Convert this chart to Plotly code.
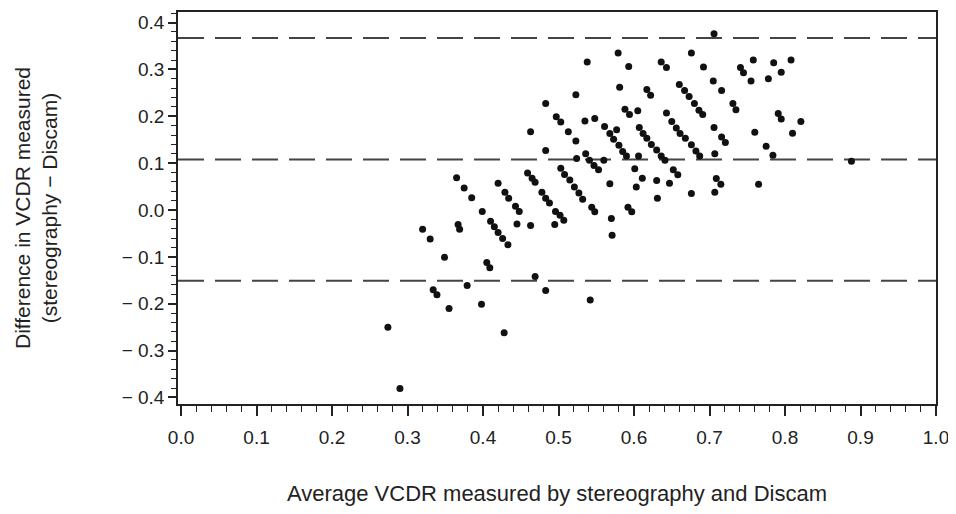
import plotly.graph_objects as go

# Average VCDR (stereography & Discam) and difference (stereography - Discam)
avg_vcdr = [
    0.274, 0.290, 0.320, 0.330, 0.349, 0.334, 0.339, 0.355, 0.367, 0.369,
    0.379, 0.398, 0.405, 0.409, 0.428, 0.410, 0.415, 0.420, 0.426, 0.433,
    0.399, 0.445, 0.463, 0.469, 0.483, 0.542, 0.365, 0.375, 0.385, 0.420,
    0.429, 0.434, 0.443, 0.448, 0.459, 0.465, 0.469, 0.478, 0.483, 0.488,
    0.496, 0.502, 0.507, 0.495, 0.503, 0.508, 0.515, 0.521, 0.527, 0.532,
    0.544, 0.548, 0.570, 0.571, 0.568, 0.592, 0.597, 0.463, 0.483, 0.497,
    0.503, 0.523, 0.513, 0.523, 0.483, 0.524, 0.535, 0.548, 0.538, 0.536,
    0.541, 0.547, 0.553, 0.560, 0.561, 0.568, 0.573, 0.580, 0.585, 0.590,
    0.577, 0.588, 0.594, 0.605, 0.581, 0.579, 0.593, 0.617, 0.622, 0.607,
    0.612, 0.617, 0.623, 0.630, 0.636, 0.641, 0.606, 0.601, 0.611, 0.603,
    0.630, 0.631, 0.647, 0.652, 0.658, 0.643, 0.650, 0.656, 0.661, 0.668,
    0.660, 0.667, 0.673, 0.636, 0.643, 0.676, 0.692, 0.680, 0.686, 0.691,
    0.676, 0.682, 0.687, 0.676, 0.706, 0.705, 0.716, 0.706, 0.716, 0.721,
    0.707, 0.709, 0.715, 0.707, 0.731, 0.735, 0.741, 0.745, 0.758, 0.755,
    0.760, 0.765, 0.775, 0.784, 0.778, 0.785, 0.795, 0.808, 0.791, 0.795,
    0.821, 0.810, 0.888,
]
diff_vcdr = [
    -0.250, -0.381, -0.041, -0.062, -0.101, -0.170, -0.181, -0.210, -0.031, -0.041,
    -0.161, -0.201, -0.112, -0.123, -0.262, -0.024, -0.036, -0.048, -0.061, -0.074,
    -0.003, -0.030, -0.033, -0.142, -0.172, -0.192, 0.069, 0.047, 0.026, 0.057,
    0.038, 0.025, 0.008, -0.003, 0.079, 0.068, 0.059, 0.038, 0.025, 0.015,
    -0.003, -0.011, -0.022, -0.031, 0.089, 0.076, 0.064, 0.049, 0.036, 0.023,
    0.006, -0.004, -0.018, -0.054, 0.056, 0.006, -0.004, 0.167, 0.227, 0.199,
    0.188, 0.246, 0.167, 0.147, 0.127, 0.110, 0.190, 0.195, 0.316, 0.120,
    0.106, 0.095, 0.086, 0.106, 0.178, 0.163, 0.151, 0.138, 0.125, 0.115,
    0.171, 0.215, 0.204, 0.212, 0.262, 0.335, 0.306, 0.257, 0.245, 0.176,
    0.163, 0.153, 0.140, 0.128, 0.115, 0.106, 0.115, 0.088, 0.068, 0.049,
    0.063, 0.025, 0.057, 0.086, 0.075, 0.207, 0.189, 0.175, 0.163, 0.153,
    0.268, 0.255, 0.242, 0.316, 0.304, 0.335, 0.305, 0.227, 0.213, 0.204,
    0.139, 0.126, 0.115, 0.035, 0.376, 0.275, 0.255, 0.176, 0.156, 0.144,
    0.120, 0.067, 0.055, 0.038, 0.227, 0.214, 0.304, 0.293, 0.320, 0.275,
    0.166, 0.055, 0.136, 0.117, 0.280, 0.314, 0.294, 0.320, 0.206, 0.194,
    0.189, 0.164, 0.104,
]

# Mean difference and limits of agreement
reference_lines = [0.367, 0.108, -0.151]

x_tick_vals = [0.0, 0.1, 0.2, 0.3, 0.4, 0.5, 0.6, 0.7, 0.8, 0.9, 1.0]
x_tick_text = ["0.0", "0.1", "0.2", "0.3", "0.4", "0.5", "0.6", "0.7", "0.8", "0.9", "1.0"]
y_tick_vals = [-0.4, -0.3, -0.2, -0.1, 0.0, 0.1, 0.2, 0.3, 0.4]
y_tick_text = ["\u2212 0.4", "\u2212 0.3", "\u2212 0.2", "\u2212 0.1", "0.0", "0.1", "0.2", "0.3", "0.4"]

FONT = "Liberation Sans, Arial, Helvetica, sans-serif"

fig = go.Figure()
fig.add_trace(go.Scatter(
    x=avg_vcdr, y=diff_vcdr, mode="markers",
    marker=dict(size=7, color="#111111", line=dict(width=0)),
    showlegend=False, hoverinfo="x+y",
))

for yv in reference_lines:
    fig.add_shape(type="line", xref="paper", yref="y", x0=0, x1=1, y0=yv, y1=yv,
                  line=dict(color="#444444", width=2, dash="26px,11px"), layer="below")

# page body has an 8px margin, so the figure is sized to fit inside it
fig.update_layout(
    width=948, height=498,
    margin=dict(l=170, r=20, t=2, b=102),
    paper_bgcolor="white", plot_bgcolor="white",
    font=dict(family=FONT, color="#222222"),
)
fig.update_xaxes(
    range=[-0.004, 1.0], showgrid=False, zeroline=False,
    showline=True, mirror=True, linecolor="#222222", linewidth=1.5,
    ticks="outside", ticklen=10, tickwidth=1.5, tickcolor="#222222",
    tickvals=x_tick_vals, ticktext=x_tick_text, tickfont=dict(size=19),
    ticklabelstandoff=5,
    minor=dict(dtick=0.02, ticks="outside", ticklen=6, tickwidth=1.2, tickcolor="#222222"),
    title=dict(text="Average VCDR measured by stereography and Discam",
               font=dict(size=22), standoff=40),
)
fig.update_yaxes(
    range=[-0.414, 0.4225], showgrid=False, zeroline=False,
    showline=True, mirror=True, linecolor="#222222", linewidth=1.5,
    ticks="outside", ticklen=8, tickwidth=1.5, tickcolor="#222222",
    tickvals=y_tick_vals, ticktext=y_tick_text, tickfont=dict(size=19),
    minor=dict(dtick=0.02, ticks="outside", ticklen=5, tickwidth=1.2, tickcolor="#222222"),
    title=dict(text="Difference in VCDR measured<br>(stereography \u2212 Discam)",
               font=dict(size=21), standoff=58),
)

fig.write_html("out.html")
